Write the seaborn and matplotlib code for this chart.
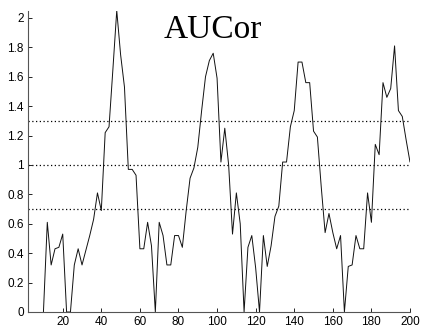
import matplotlib
matplotlib.use("Agg")
import matplotlib.pyplot as plt
import seaborn as sns
import numpy as np
import pandas as pd

# Data
x_values = list(range(10, 201, 2))
aucor = [0.0, 0.61, 0.32, 0.43, 0.44, 0.53, 0.0, 0.0, 0.32, 0.43,
         0.32, 0.42, 0.52, 0.63, 0.81, 0.69, 1.22, 1.26, 1.65, 2.05,
         1.75, 1.53, 0.97, 0.97, 0.93, 0.43, 0.43, 0.61, 0.45, 0.0,
         0.61, 0.52, 0.32, 0.32, 0.52, 0.52, 0.44, 0.69, 0.91, 0.98,
         1.12, 1.37, 1.60, 1.71, 1.76, 1.59, 1.02, 1.25, 1.00, 0.53,
         0.81, 0.60, 0.0, 0.44, 0.52, 0.30, 0.0, 0.52, 0.31, 0.45,
         0.65, 0.72, 1.02, 1.02, 1.26, 1.37, 1.70, 1.70, 1.56, 1.56,
         1.23, 1.19, 0.85, 0.54, 0.67, 0.54, 0.43, 0.52, 0.0, 0.31,
         0.32, 0.52, 0.43, 0.43, 0.81, 0.61, 1.14, 1.07, 1.56, 1.46,
         1.52, 1.81, 1.37, 1.33, 1.17, 1.02]
thresholds = [0.7, 1.0, 1.3]
x_ticks = [20, 40, 60, 80, 100, 120, 140, 160, 180, 200]
y_ticks = [0, 0.2, 0.4, 0.6, 0.8, 1.0, 1.2, 1.4, 1.6, 1.8, 2.0]
y_tick_labels = ["0", "0.2", "0.4", "0.6", "0.8", "1", "1.2", "1.4", "1.6", "1.8", "2"]
title_text = "AUCor"

df = pd.DataFrame({"x": x_values, "y": aucor})

sns.set_style("white")
plt.rcParams["font.family"] = ["Liberation Sans", "DejaVu Sans"]

fig = plt.figure(figsize=(4.21, 3.28), dpi=100)
ax = fig.add_axes([28 / 421, 1 - 312 / 328, (410 - 28) / 421, (312 - 10.6) / 328])

for t in thresholds:
    ax.axhline(t, color="black", lw=0.9, ls=(0, (1, 2)), zorder=1)

sns.lineplot(data=df, x="x", y="y", ax=ax, color="#111111", lw=0.7, zorder=2)

ax.set_xlim(2, 200)
ax.set_ylim(0, 2.05)
ax.set_xticks(x_ticks)
ax.set_xticklabels([str(v) for v in x_ticks])
ax.set_yticks(y_ticks)
ax.set_yticklabels(y_tick_labels)
ax.set_xlabel("")
ax.set_ylabel("")
ax.tick_params(axis="both", direction="in", length=3, width=0.6, labelsize=8.5,
               colors="black", pad=3, bottom=True, left=True)
for s in ["top", "right"]:
    ax.spines[s].set_visible(False)
for s in ["left", "bottom"]:
    ax.spines[s].set_color("#555555")
    ax.spines[s].set_linewidth(0.8)

fig.text(213 / 421, 1 - 38 / 328, title_text, family="Liberation Serif",
         fontsize=24, ha="center", va="baseline", color="black")

fig.savefig("out.png", dpi=100)
